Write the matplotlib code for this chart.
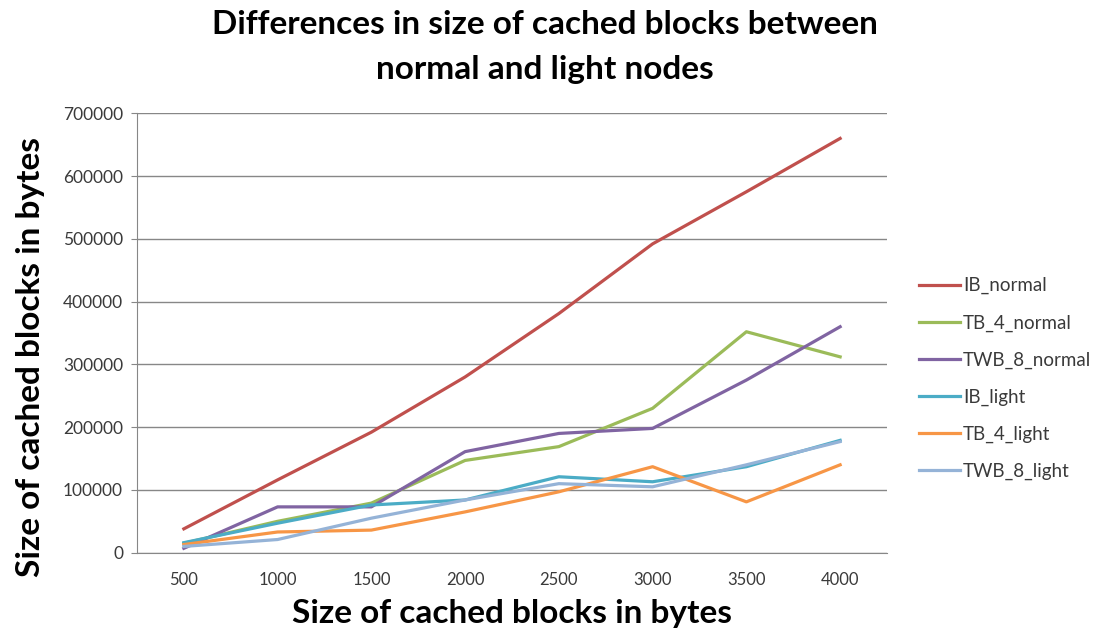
import matplotlib
matplotlib.use("Agg")
import matplotlib.pyplot as plt

# block sizes (categories on the x axis)
block_sizes = ["500", "1000", "1500", "2000", "2500", "3000", "3500", "4000"]

ib_normal = [38000, 116000, 192000, 280000, 381000, 492000, 575000, 660000]
tb4_normal = [15000, 50000, 79000, 147000, 169000, 230000, 352000, 312000]
twb8_normal = [7000, 73000, 73000, 161000, 190000, 198000, 275000, 360000]
ib_light = [16000, 47000, 76000, 84000, 121000, 113000, 137000, 179000]
tb4_light = [13000, 33000, 36000, 65000, 97000, 137000, 81000, 140000]
twb8_light = [10000, 21000, 55000, 84000, 110000, 105000, 140000, 177000]

series_names = ["IB_normal", "TB_4_normal", "TWB_8_normal", "IB_light", "TB_4_light", "TWB_8_light"]
series_colors = ["#C0504D", "#9BBB59", "#8064A2", "#4BACC6", "#F79646", "#95B3D7"]

plt.rcParams["font.family"] = ["Lato", "DejaVu Sans"]

fig = plt.figure(figsize=(10.94, 6.38), dpi=100)
ax = fig.add_axes([0.1252, 0.1337, 0.6856, 0.6887])

x = list(range(len(block_sizes)))
for values, name, color in zip(
    [ib_normal, tb4_normal, twb8_normal, ib_light, tb4_light, twb8_light],
    series_names, series_colors,
):
    ax.plot(x, values, color=color, linewidth=2.3, label=name, solid_joinstyle="round")

ax.set_xlim(-0.5, len(block_sizes) - 0.5)
ax.set_ylim(0, 700000)
ax.set_yticks(range(0, 700001, 100000))
ax.set_yticklabels([str(v) for v in range(0, 700001, 100000)], color="#3a3a3a", fontsize=12.5)
ax.set_xticks(x)
ax.set_xticklabels(block_sizes, color="#3a3a3a", fontsize=12)
ax.tick_params(axis="x", length=0, pad=14)
ax.tick_params(axis="y", length=4, color="#878787", pad=6)

ax.grid(axis="y", color="#878787", linewidth=1)
ax.set_axisbelow(True)
for side in ["top", "right"]:
    ax.spines[side].set_visible(False)
for side in ["left", "bottom"]:
    ax.spines[side].set_color("#878787")

fig.suptitle("Differences in size of cached blocks between\nnormal and light nodes",
             fontsize=24, fontweight="bold", y=0.985, x=0.498, linespacing=1.7)
ax.set_xlabel("Size of cached blocks in bytes", fontsize=24, fontweight="bold", labelpad=8)
ax.set_ylabel("Size of cached blocks in bytes", fontsize=24, fontweight="bold")
ax.yaxis.set_label_coords(-0.123, 0.445)

ax.legend(loc="center left", bbox_to_anchor=(1.02, 0.396), frameon=False,
          fontsize=13.5, handlelength=2.2, handletextpad=0.15, labelspacing=1.06,
          labelcolor="#3a3a3a")

fig.savefig("out.png", dpi=100)
